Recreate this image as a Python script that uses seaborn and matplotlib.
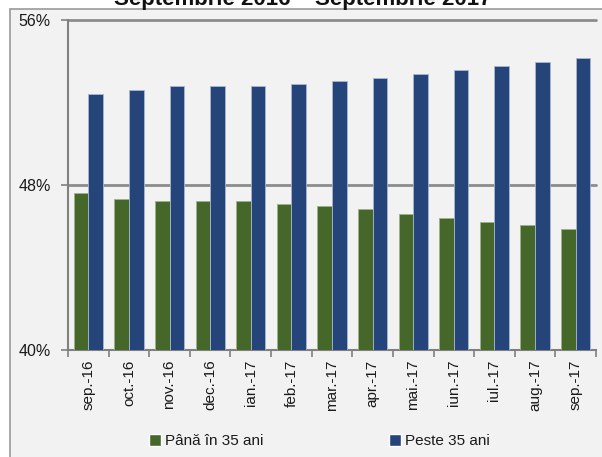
import matplotlib
matplotlib.use("Agg")
import matplotlib.pyplot as plt
import seaborn as sns
import pandas as pd
from matplotlib.patches import Rectangle
from matplotlib.lines import Line2D

months = ["sep.-16", "oct.-16", "nov.-16", "dec.-16", "ian.-17", "feb.-17", "mar.-17",
          "apr.-17", "mai.-17", "iun.-17", "iul.-17", "aug.-17", "sep.-17"]
under35 = [47.60, 47.32, 47.21, 47.21, 47.21, 47.09, 46.98, 46.82, 46.59, 46.40, 46.21, 46.06, 45.87]
over35 = [52.40, 52.61, 52.80, 52.78, 52.78, 52.90, 53.03, 53.17, 53.40, 53.59, 53.78, 53.95, 54.14]
series_names = ["Până în 35 ani", "Peste 35 ani"]
yticks = [40, 48, 56]
ytick_labels = ["40%", "48%", "56%"]
title = "Septembrie 2016 – Septembrie 2017"

df = pd.DataFrame({
    "luna": months * 2,
    "valoare": under35 + over35,
    "grupa": [series_names[0]] * len(months) + [series_names[1]] * len(months),
})

sns.set_theme(style="white")
plt.rcParams["font.family"] = ["Liberation Sans", "DejaVu Sans"]

BG = "#f2f2f2"
FS = 11
fig = plt.figure(figsize=(6.02, 4.57), dpi=100)
fig.patch.set_facecolor("white")
W, H = 602, 457
# panel background and frame
bg = Rectangle((10 / W, 0), 1, 1 - 9 / H, transform=fig.transFigure,
               facecolor=BG, edgecolor="none", zorder=-10)
fig.add_artist(bg)
fig.add_artist(Line2D([10 / W, 10 / W], [0, 1 - 9 / H], transform=fig.transFigure,
                      color="#9a9a9a", lw=1.2, zorder=-5))
fig.add_artist(Line2D([10 / W, 1], [1 - 9 / H, 1 - 9 / H], transform=fig.transFigure,
                      color="#9a9a9a", lw=1.2, zorder=-5))

ax = fig.add_axes([68 / W, 1 - 350 / H, (596 - 68) / W, (350 - 20) / H])
ax.set_facecolor(BG)
ax.set_zorder(1)

colors = ["#46672a", "#254479"]
sns.barplot(data=df, x="luna", y="valoare", hue="grupa", hue_order=series_names,
            palette=colors, width=0.72, gap=0, ax=ax, saturation=1, zorder=3)

for cont, ec in zip(ax.containers, ["#9fb08c", "#a9b6cf"]):
    for p in cont:
        p.set_edgecolor(ec)
        p.set_linewidth(0.6)

ax.set_ylim(40, 56)
ax.set_xlim(-0.5, len(months) - 0.5)
ax.set_yticks(yticks)
ax.set_yticklabels(ytick_labels, fontsize=FS + 0.5, color="#1a1a1a")
ax.tick_params(axis="y", left=True, length=5, width=1.2, color="#808080", pad=7.5)
ax.set_xticks(range(len(months)))
ax.set_xticklabels(months, rotation=90, fontsize=FS, color="#1a1a1a")
ax.tick_params(axis="x", which="major", bottom=False, length=0, pad=7)
ax.set_xticks([i - 0.5 for i in range(len(months) + 1)], minor=True)
ax.tick_params(axis="x", which="minor", bottom=True, length=5, width=1.2, color="#808080")
ax.set_xlabel("")
ax.set_ylabel("")

for y in [48, 56]:
    ax.axhline(y, color="#8c8c8c", lw=2, zorder=2, clip_on=False)

for s in ["top", "right"]:
    ax.spines[s].set_visible(False)
for s in ["left", "bottom"]:
    ax.spines[s].set_color("#808080")
    ax.spines[s].set_linewidth(1.5)

handles, labels = ax.get_legend_handles_labels()
ax.get_legend().remove()
for h, l, xpos in zip(handles, labels, [149, 389]):
    leg = fig.legend([h], [l], loc="center left", bbox_to_anchor=(xpos / W, 1 - 441 / H),
                     frameon=False, fontsize=FS, handlelength=0.8, handleheight=0.8,
                     handletextpad=0.25, borderpad=0, borderaxespad=0)
    for t in leg.get_texts():
        t.set_color("#1a1a1a")

fig.text(303 / W, 1 - 5 / H, title, ha="center", va="baseline", fontsize=16,
         fontweight="bold", color="#111111")

fig.savefig("out.png", dpi=100, facecolor=fig.get_facecolor())
